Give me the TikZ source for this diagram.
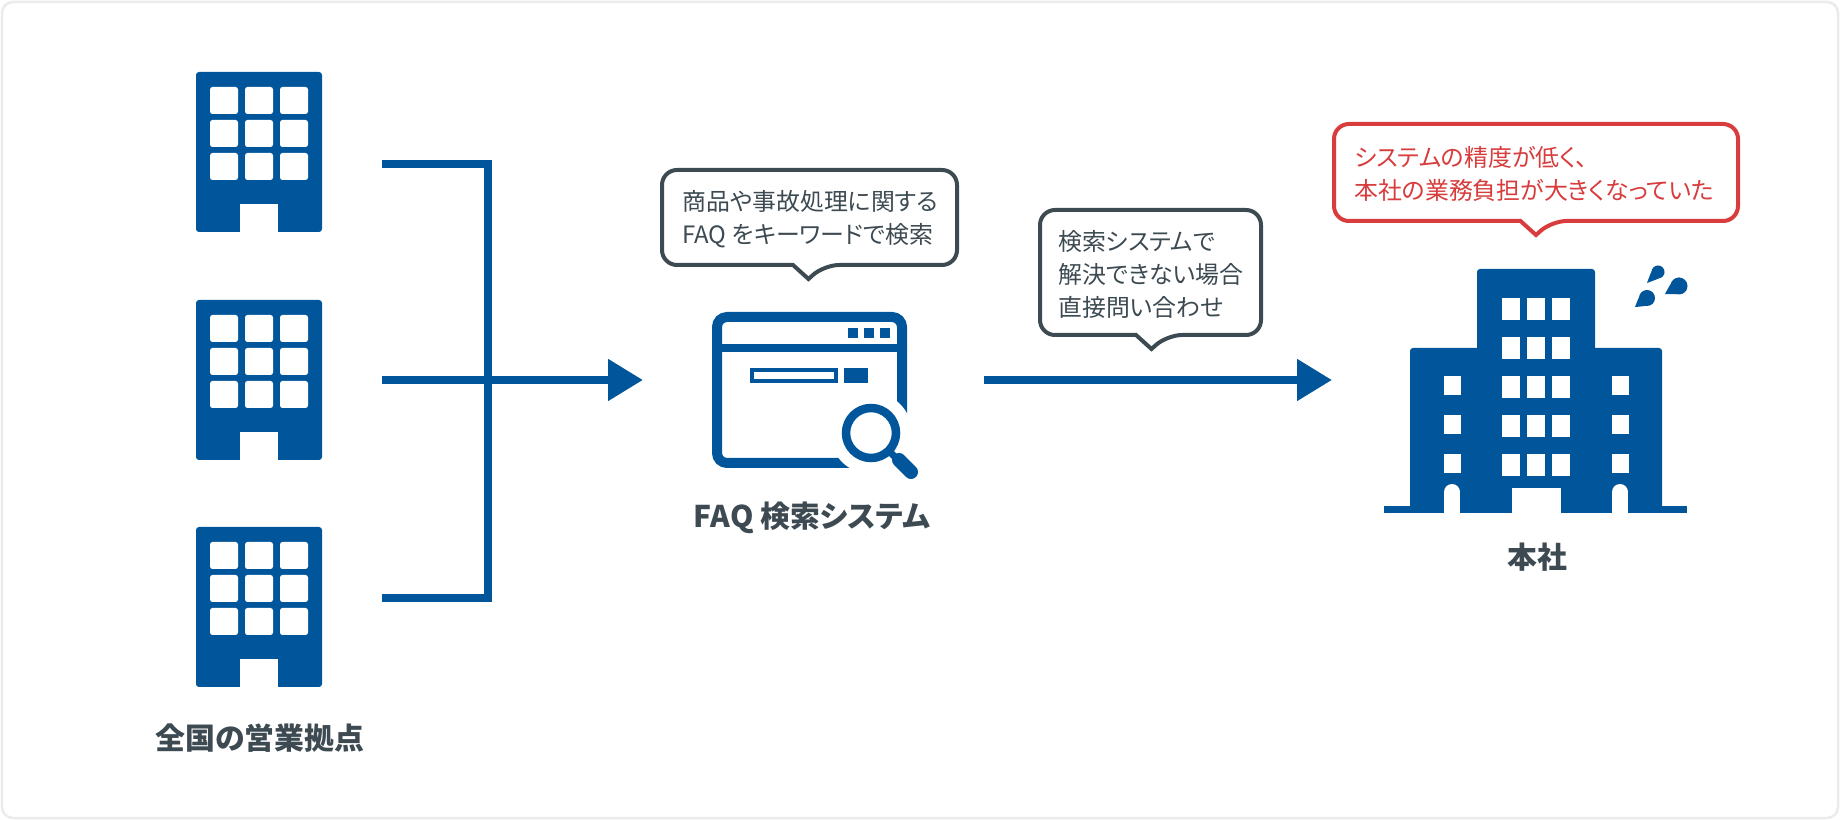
\documentclass[tikz,border=0pt]{standalone}
\usepackage{fontspec}
\setmainfont[RawFeature=+palt]{Noto Sans CJK JP}
\usetikzlibrary{arrows.meta, positioning, calc}
\definecolor{corpblue}{HTML}{00559B}
\definecolor{inkgray}{HTML}{3D4A52}
\definecolor{alertred}{HTML}{D83C3C}
\definecolor{framegray}{HTML}{EBEBEB}
\newcommand{\officeblock}[1]{%
  \begin{scope}[shift={(0,#1)}]
    \fill[corpblue, rounded corners=0.06cm] (196,72) rectangle (322,232);
    \foreach \wx in {210,245,280}
      \foreach \wy in {87,120,153}
        \fill[white, rounded corners=0.05cm] (\wx,\wy) rectangle ++(28,27);
    \fill[white] (240,204) rectangle (278,232);
  \end{scope}}
\newcommand{\speech}[6]{%
  \draw[#6, line width=0.08cm, fill=white, rounded corners=0.3cm]
    (#1,#2) -- (#3,#2) -- (#3,#4) -- ($(#5,#4)+(15.5,0)$) [sharp corners]
    -- ($(#5,#4)+(0,14)$) -- ($(#5,#4)+(-15.5,0)$) [rounded corners=0.3cm] -- (#1,#4) -- cycle;}
\newcommand{\sweat}[4]{%
  \fill[corpblue] (#1) circle (#2);
  \fill[corpblue] (#3) .. controls ($(#1)!#4!60:(#3)$) .. ($(#1)!#4!120:(#3)$)
    -- ($(#1)!#4!-120:(#3)$) .. controls ($(#1)!#4!-60:(#3)$) .. (#3) -- cycle;}
\begin{document}
\begin{tikzpicture}[
    x=0.02cm, y=-0.02cm,
    link/.style={corpblue, line width=0.16cm},
    flow/.style={link, -{Triangle[length=0.7cm, width=0.8cm]}},
    note/.style={anchor=west, inner sep=0pt, align=left, font=\fontsize{13.6}{18.8}\selectfont},
    caption/.style={inner sep=0pt, text=inkgray, font=\bfseries\fontsize{17}{20}\selectfont},
]
\useasboundingbox (0,0) rectangle (1840,820);
\draw[framegray, line width=0.05cm, rounded corners=0.22cm] (2,2) rectangle (1838,818);

\officeblock{0}
\officeblock{228}
\officeblock{455}

\coordinate (tapA) at (382,164);
\coordinate (tapB) at (382,380);
\coordinate (tapC) at (382,598);
\coordinate (joint) at (488,380);
\coordinate (faqin) at (643,380);
\coordinate (faqout) at (984,380);
\coordinate (hqin) at (1332,380);
\draw[link] (tapA) -| (joint);
\draw[link] (tapC) -| (joint);
\draw[flow] (tapB) -- (joint) -- (faqin);
\draw[flow] (faqout) -- (hqin);

\draw[corpblue, line width=0.2cm, rounded corners=0.2cm] (717,317) rectangle (902,463);
\fill[corpblue] (712,344) rectangle (907,352);
\foreach \dx in {848,864,880}
  \fill[corpblue] (\dx,328) rectangle ++(10,10);
\draw[corpblue, line width=0.07cm] (752,370) rectangle (836,381);
\fill[corpblue] (844,368) rectangle (868,383);
\fill[white] (871,433) circle (41);
\draw[white, line width=0.6cm, line cap=round] (892,452) -- (912,473);
\draw[corpblue, line width=0.14cm] (890,452) -- (900,462);
\draw[corpblue, line width=0.28cm, line cap=round] (899,460) -- (911,472);
\fill[white] (871,433) circle (25);
\draw[corpblue, line width=0.17cm] (871,433) circle (25);

\fill[corpblue, rounded corners=0.06cm] (1477,269) rectangle (1595,360);
\fill[corpblue, rounded corners=0.06cm] (1410,348) rectangle (1662,513);
\fill[corpblue] (1384,506) rectangle (1687,513);
\foreach \wx in {1502,1527,1552}
  \foreach \wy in {298,337,376,415,454}
    \fill[white] (\wx,\wy) rectangle ++(18,22);
\foreach \wx in {1444,1612}
  \foreach \wy in {376,415,454}
    \fill[white] (\wx,\wy) rectangle ++(17,19);
\fill[white] (1512,488) rectangle (1561,513);
\foreach \wx in {1452,1620} {
  \fill[white] (\wx,492) circle (8);
  \fill[white] (\wx-8,492) rectangle (\wx+8,513);
}
\sweat{1658,272}{6.5}{1647,283}{0.42}
\sweat{1679,286}{8.5}{1665,294}{0.53}
\sweat{1647,298}{8}{1635,307}{0.53}

\speech{662}{170}{957}{265}{808.5}{inkgray}
\speech{1040}{210}{1261}{335}{1151.5}{inkgray}
\speech{1334}{124}{1738}{221}{1536}{alertred}

\node[note, text=inkgray] (faqnote) at (682,219.5) {商品や事故処理に関する\\FAQ をキーワードで検索};
\node[note, text=inkgray] (asknote) at (1058,274.5) {検索システムで\\解決できない場合\\直接問い合わせ};
\node[note, text=alertred] (hqnote) at (1354,174) {システムの精度が低く、\\本社の業務負担が大きくなっていた};

\node[caption] (branchlabel) at (260,738) {全国の営業拠点};
\node[caption] (faqlabel) at (812,518) {FAQ 検索システム};
\node[caption] (hqlabel) at (1537,557) {本社};
\end{tikzpicture}
\end{document}
